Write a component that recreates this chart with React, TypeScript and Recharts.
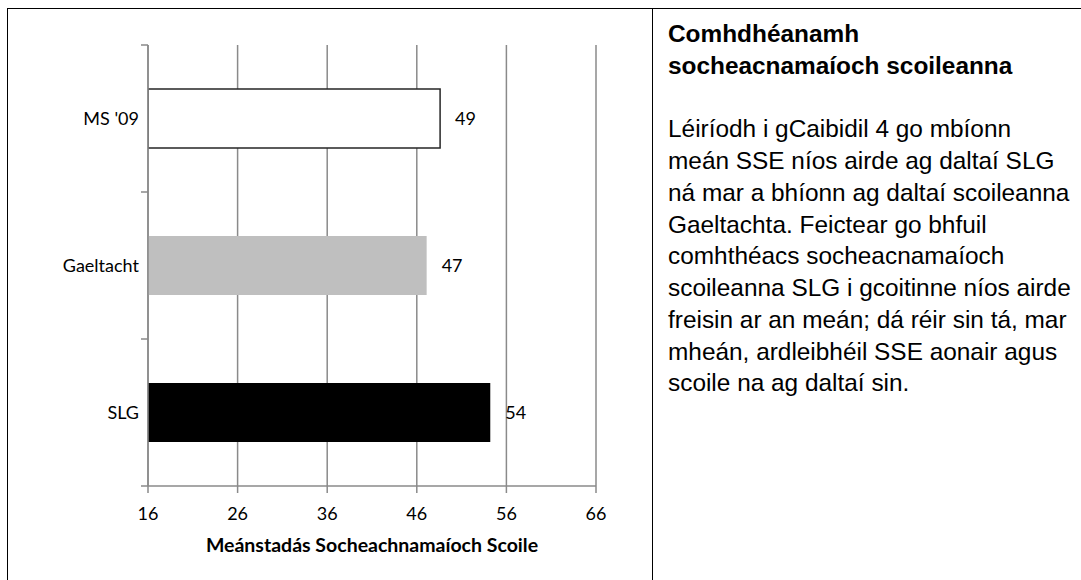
import { BarChart, Bar, XAxis, YAxis, CartesianGrid, LabelList, Cell } from 'recharts';

const categories = ["MS '09", 'Gaeltacht', 'SLG'];
const scores = [48.6, 47.1, 54.2];
const xTicks = [16, 26, 36, 46, 56, 66];

const titleLines = ['Comhdhéanamh', 'socheacnamaíoch scoileanna'];
const bodyLines = [
  'Léiríodh i gCaibidil 4 go mbíonn',
  'meán SSE níos airde ag daltaí SLG',
  'ná mar a bhíonn ag daltaí scoileanna',
  'Gaeltachta. Feictear go bhfuil',
  'comhthéacs socheacnamaíoch',
  'scoileanna SLG i gcoitinne níos airde',
  'freisin ar an meán; dá réir sin tá, mar',
  'mheán, ardleibhéil SSE aonair agus',
  'scoile na ag daltaí sin.',
];

const data = categories.map((name, i) => ({ name, score: scores[i] }));

const barFills = ['#ffffff', '#bfbfbf', '#000000'];
const barStrokes = ['#262626', 'none', 'none'];
const gridColor = '#8a8a8a';
const chartFont = 'Lato, "Open Sans", sans-serif';

// category labels sit mid-band, tick marks sit on the band edges (Excel style)
function CategoryTick(props: any) {
  const { x, y, payload, index, visibleTicksCount } = props;
  const half = payload?.offset ?? 0;
  const x1 = x + 2;
  const x2 = x + 9;
  const isLast = index === visibleTicksCount - 1;
  return (
    <g>
      <line x1={x1} x2={x2} y1={y - half} y2={y - half} stroke={gridColor} strokeWidth={1.5} />
      {isLast && <line x1={x1} x2={x2} y1={y + half} y2={y + half} stroke={gridColor} strokeWidth={1.5} />}
      <text x={x} y={y} dy="0.35em" textAnchor="end" fontSize={18} fill="#000" fontFamily={chartFont}>
        {payload.value}
      </text>
    </g>
  );
}

export default function App() {
  return (
    <div style={{ position: 'absolute', left: 0, top: 0, width: 1081, height: 580, background: '#fff', overflow: 'hidden' }}>
      <div style={{ position: 'absolute', left: 7, top: 8, width: 1074, height: 572, borderTop: '1.5px solid #000', borderLeft: '1.5px solid #000', boxSizing: 'border-box' }} />
      <div style={{ position: 'absolute', left: 652, top: 8, width: 0, height: 572, borderLeft: '1.5px solid #000' }} />

      <div style={{ position: 'absolute', left: 0, top: 0 }}>
        <BarChart width={652} height={580} data={data} layout="vertical" margin={{ top: 45, right: 56, bottom: 24, left: 0 }}>
          <CartesianGrid vertical={true} horizontal={false} stroke={gridColor} strokeWidth={1.5} />
          <XAxis
            type="number"
            domain={[16, 66]}
            ticks={xTicks}
            allowDataOverflow
            height={70}
            stroke={gridColor}
            strokeWidth={1.5}
            tickSize={7}
            tickMargin={14}
            tick={{ fill: '#000', fontSize: 18, fontFamily: chartFont }}
            label={{ value: 'Meánstadás Socheachnamaíoch Scoile', position: 'insideBottom', offset: 4, fill: '#000', fontSize: 19.5, fontWeight: 700, fontFamily: chartFont }}
          />
          <YAxis
            type="category"
            dataKey="name"
            width={148}
            stroke={gridColor}
            strokeWidth={1.5}
            tickLine={false}
            tickSize={7}
            tickMargin={2}
            tick={<CategoryTick />}
          />
          <Bar dataKey="score" barSize={59} isAnimationActive={false}>
            {data.map((_, i) => (
              <Cell key={`c-${i}`} fill={barFills[i]} stroke={barStrokes[i]} strokeWidth={1.5} />
            ))}
            <LabelList
              dataKey="score"
              position="right"
              offset={15}
              formatter={(v: any) => Math.round(Number(v))}
              fill="#000"
              fontSize={18}
              fontFamily={chartFont}
            />
          </Bar>
        </BarChart>
      </div>

      <div style={{ position: 'absolute', left: 668, top: 18, fontFamily: '"Liberation Sans", Arial, sans-serif', fontSize: 24.4, lineHeight: '31.75px', color: '#000', whiteSpace: 'nowrap' }}>
        {titleLines.map((t) => (
          <div key={t} style={{ fontWeight: 700 }}>{t}</div>
        ))}
        <div style={{ height: 31.75 }} />
        {bodyLines.map((t) => (
          <div key={t}>{t}</div>
        ))}
      </div>
    </div>
  );
}
